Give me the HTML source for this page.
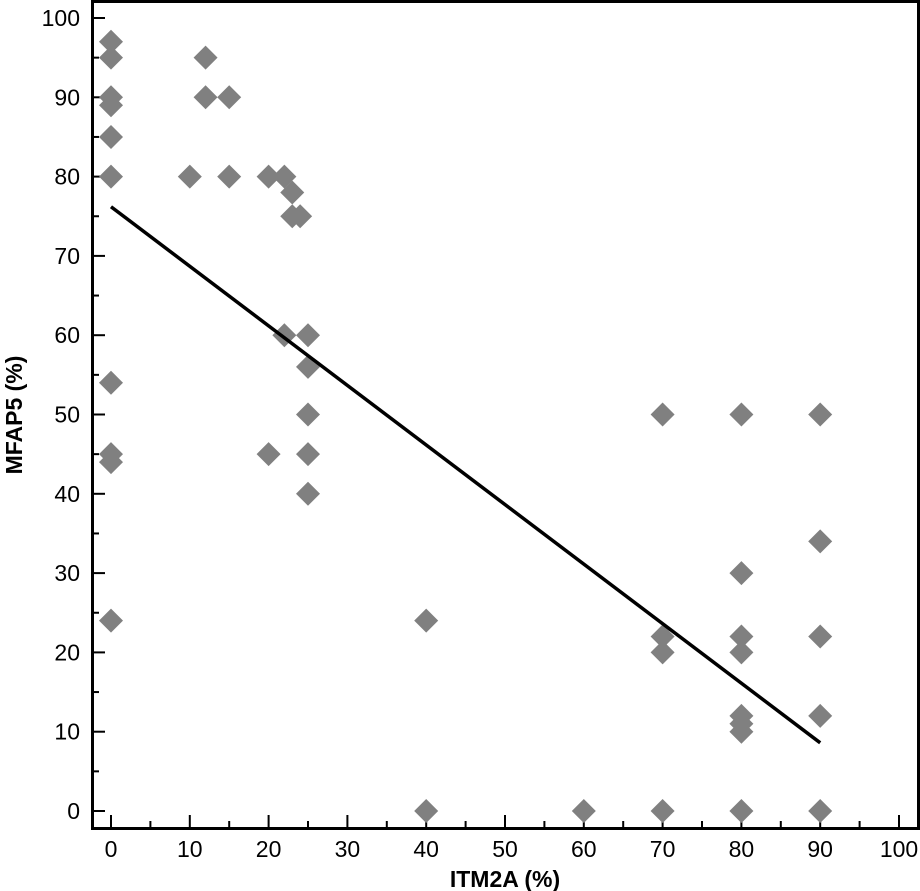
<!DOCTYPE html>
<html><head><meta charset="utf-8"><style>
body{margin:0;background:#fff;}
svg{display:block;font-family:"Liberation Sans","DejaVu Sans",sans-serif;}
</style></head><body>
<svg id="chart" width="920" height="891" viewBox="0 0 920 891"></svg>
<script>
const xVals=[0,0,0,0,0,0,0,0,0,0,10,12,12,15,15,20,20,22,22,23,23,24,25,25,25,25,25,40,40,60,70,70,70,70,80,80,80,80,80,80,80,80,90,90,90,90,90];
const yVals=[97,95,90,89,85,80,54,45,44,24,80,95,90,90,80,80,45,80,60,78,75,75,60,56,50,45,40,24,0,0,50,22,20,0,50,30,22,20,12,11,10,0,50,34,22,12,0];
const xTicks=[0,10,20,30,40,50,60,70,80,90,100];
const yTicks=[0,10,20,30,40,50,60,70,80,90,100];
const fitLine=[[0,76.2],[90,8.6]];
const NS="http://www.w3.org/2000/svg";
const svg=document.getElementById('chart');
const X=v=>111+v*7.88, Y=v=>811-v*7.93;
function mk(t,a,p){const e=document.createElementNS(NS,t);for(const k in a)e.setAttribute(k,a[k]);(p||svg).appendChild(e);return e;}
const frame=mk('rect',{x:92.5,y:1.5,width:826,height:827,fill:'none',stroke:'#000','stroke-width':3});


xTicks.forEach((t,i)=>{
  const l=mk('line',{x1:X(t),x2:X(t),y1:828,y2:815,stroke:'#000','stroke-width':2});
  
  
  if(i<xTicks.length-1){const m=mk('line',{x1:X(t+5),x2:X(t+5),y1:828,y2:821,stroke:'#000','stroke-width':2});
  
  }
  const tx=mk('text',{x:X(t),y:857,'text-anchor':'middle','font-size':23});tx.textContent=t;
  
  
});
yTicks.forEach(t=>{
  const l=mk('line',{x1:92,x2:105,y1:Y(t),y2:Y(t),stroke:'#000','stroke-width':2});
  
  
  if(t<100){const m=mk('line',{x1:92,x2:99,y1:Y(t+5),y2:Y(t+5),stroke:'#000','stroke-width':2});
  
  }
  const tx=mk('text',{x:80,y:Y(t)+8,'text-anchor':'end','font-size':23});tx.textContent=t;
  
  
});
const xt=mk('text',{x:505,y:887,'text-anchor':'middle','font-size':23,'font-weight':'bold'});xt.textContent='ITM2A (%)';


const yt=mk('text',{x:0,y:0,'text-anchor':'middle','font-size':23,'font-weight':'bold',transform:'translate(22,415) rotate(-90)'});yt.textContent='MFAP5 (%)';


xVals.forEach((xv,i)=>{
  const cx=X(xv),cy=Y(yVals[i]),r=12;
  const p=mk('polygon',{points:`${cx},${cy-r} ${cx+r},${cy} ${cx},${cy+r} ${cx-r},${cy}`,fill:'#808080'});
  
  
});
const fl=mk('line',{x1:X(fitLine[0][0]),y1:Y(fitLine[0][1]),x2:X(fitLine[1][0]),y2:Y(fitLine[1][1]),stroke:'#000','stroke-width':3.5});


</script>
</body></html>
